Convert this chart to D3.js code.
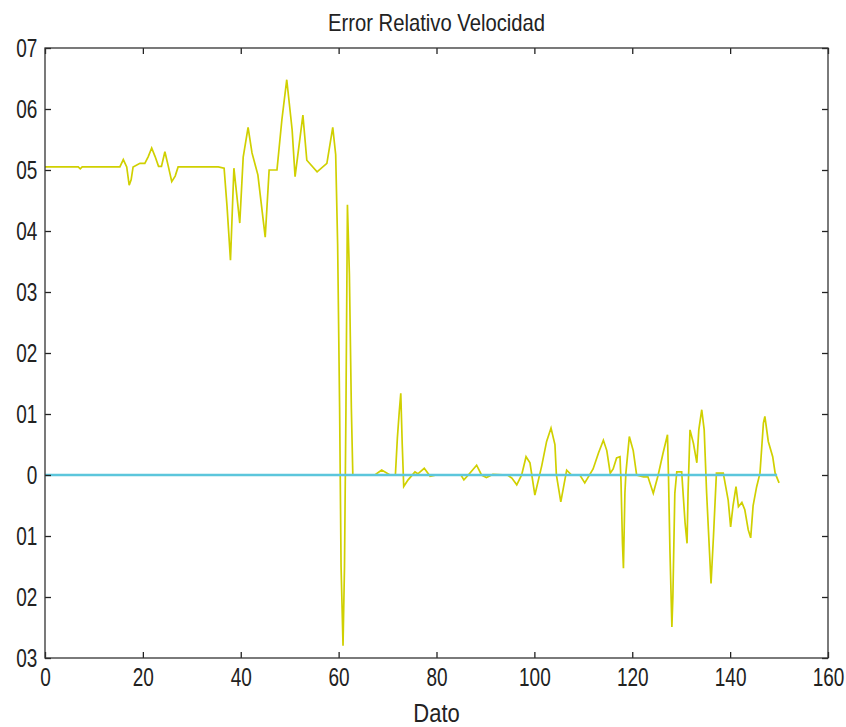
<!DOCTYPE html>
<html>
<head>
<meta charset="utf-8">
<script src="https://cdn.jsdelivr.net/npm/d3@7"></script>
<style>
  body { margin: 0; background: #fff; }
  svg text { font-family: "Liberation Sans", Arial, sans-serif; fill: #222; }
</style>
</head>
<body>
<div id="chart"></div>
<script>
// valores: [dato, error]
var errorVel = [
  [0, 0.505], [6.8, 0.505], [7.2, 0.502], [7.6, 0.505], [15.3, 0.505], [16, 0.517], [16.7, 0.505],
  [17.2, 0.475], [17.6, 0.484], [18, 0.505], [19.4, 0.511], [20.4, 0.511], [21.1, 0.522], [21.8, 0.536],
  [22.5, 0.522], [23.2, 0.506], [23.8, 0.506], [24.5, 0.53], [25.2, 0.506], [25.9, 0.481], [26.6, 0.49],
  [27.2, 0.505], [35.4, 0.505], [36.6, 0.503], [37.2, 0.44], [37.9, 0.352], [38.6, 0.503], [39.8, 0.413],
  [40.5, 0.521], [41.5, 0.57], [42.3, 0.528], [43.5, 0.492], [45, 0.39], [45.8, 0.5], [47.4, 0.5],
  [48.4, 0.582], [49.4, 0.648], [50.5, 0.566], [51.1, 0.489], [52.7, 0.59], [53.5, 0.516], [55.6, 0.497],
  [57.6, 0.511], [58.8, 0.57], [59.4, 0.525], [59.8, 0.377], [60.2, 0.111], [60.5, -0.15], [60.9, -0.28],
  [61.2, -0.15], [61.5, 0.11], [61.8, 0.443], [62.2, 0.33], [62.6, 0.11], [62.9, 0],
  [67.4, 0], [68.8, 0.008], [70.5, 0], [71.6, 0], [72, 0.06], [72.4, 0.105], [72.7, 0.134], [73, 0.05],
  [73.3, -0.019], [74.2, -0.008], [75.6, 0.005], [76.2, 0.002], [77.5, 0.011], [78.7, -0.002], [80, 0],
  [85, 0], [85.6, -0.008], [86.5, 0], [88.2, 0.016], [89.2, 0], [90.2, -0.004], [91.5, 0.001], [94.5, 0],
  [95.4, -0.005], [96.4, -0.016], [97.4, 0], [98.3, 0.03], [99.1, 0.02], [100.1, -0.033], [101.5, 0.015],
  [102.5, 0.055], [103.4, 0.077], [104.2, 0.05], [104.5, 0], [105.4, -0.044], [106.6, 0.008], [107.6, 0],
  [109.3, 0], [110.3, -0.013], [112, 0.01], [113.1, 0.036], [114.1, 0.057], [114.8, 0.04], [115.5, 0.003],
  [116.1, 0.01], [116.8, 0.028], [117.5, 0.03], [117.7, -0.01], [118, -0.112], [118.2, -0.153], [118.5, -0.03],
  [118.7, 0.003], [119.4, 0.063], [120.2, 0.04], [120.9, 0], [122.3, -0.003], [123.2, -0.003], [124.3, -0.03],
  [125.3, 0], [126.3, 0.036], [127.2, 0.066], [127.4, 0], [127.7, -0.123], [128.1, -0.249], [128.3, -0.2],
  [128.7, -0.03], [129.1, 0.005], [130.1, 0.005], [130.8, -0.079], [131.2, -0.112], [131.4, -0.03],
  [131.8, 0.074], [132.5, 0.052], [133.2, 0.02], [133.6, 0.074], [134.2, 0.107], [134.7, 0.074],
  [135.2, -0.03], [135.9, -0.145], [136.1, -0.178], [136.6, -0.1], [137.2, 0.003], [138.6, 0.003],
  [139.6, -0.041], [140.1, -0.085], [140.6, -0.05], [141.2, -0.019], [141.7, -0.052], [142.4, -0.045],
  [143, -0.057], [143.7, -0.09], [144.2, -0.103], [144.7, -0.05], [145.4, -0.02], [146.1, 0.003],
  [146.8, 0.085], [147.1, 0.096], [147.8, 0.055], [148.7, 0.03], [149.2, 0.003], [150, -0.013]
];
var referencia = [[0, 0], [149.6, 0]];

var xTicks = [0, 20, 40, 60, 80, 100, 120, 140, 160];
var yTicks = [0.7, 0.6, 0.5, 0.4, 0.3, 0.2, 0.1, 0, -0.1, -0.2, -0.3];
var yTickLabels = ["07", "06", "05", "04", "03", "02", "01", "0", "01", "02", "03"];

var width = 846, height = 727;
var margin = {top: 48, right: 18, bottom: 69, left: 45};

var svg = d3.select("#chart").append("svg")
    .attr("width", width)
    .attr("height", height);

var x = d3.scaleLinear().domain([0, 160]).range([margin.left, width - margin.right]);
var y = d3.scaleLinear().domain([-0.3, 0.7]).range([height - margin.bottom, margin.top]);

var line = d3.line()
    .x(d => x(d[0]))
    .y(d => y(d[1]));

svg.append("path")
    .datum(errorVel)
    .attr("fill", "none")
    .attr("stroke", "#d0d000")
    .attr("stroke-width", 1.7)
    .attr("d", line);

svg.append("path")
    .datum(referencia)
    .attr("fill", "none")
    .attr("stroke", "#5cc6dc")
    .attr("stroke-width", 2.4)
    .attr("d", line);

// ejes con ticks hacia dentro
var tk = 6;
svg.append("g")
    .attr("transform", "translate(0," + (height - margin.bottom) + ")")
    .call(d3.axisBottom(x).tickValues(xTicks).tickSize(-tk).tickPadding(10).tickFormat(d3.format("d")))
    .call(g => g.select(".domain").remove());

svg.append("g")
    .attr("transform", "translate(0," + margin.top + ")")
    .call(d3.axisTop(x).tickValues(xTicks).tickSize(-tk).tickFormat(""))
    .call(g => g.select(".domain").remove());

svg.append("g")
    .attr("class", "ejeY")
    .attr("transform", "translate(" + margin.left + ",0)")
    .call(d3.axisLeft(y).tickValues(yTicks).tickSize(-tk).tickPadding(10)
        .tickFormat((d, i) => yTickLabels[i]))
    .call(g => g.select(".domain").remove());

svg.append("g")
    .attr("transform", "translate(" + (width - margin.right) + ",0)")
    .call(d3.axisRight(y).tickValues(yTicks).tickSize(-tk).tickFormat(""))
    .call(g => g.select(".domain").remove());

svg.selectAll(".tick line").attr("stroke", "#222").attr("stroke-width", 1.3);
svg.selectAll(".tick text")
    .style("font-size", "25px")
    .attr("fill", "#222")
    .attr("transform", "scale(0.76,1)");

svg.append("rect")
    .attr("x", margin.left)
    .attr("y", margin.top)
    .attr("width", width - margin.left - margin.right)
    .attr("height", height - margin.top - margin.bottom)
    .attr("fill", "none")
    .attr("stroke", "#333")
    .attr("stroke-width", 1.3);

var cx = (margin.left + width - margin.right) / 2;

svg.append("text")
    .attr("transform", "translate(" + cx + ",31) scale(0.88,1)")
    .attr("text-anchor", "middle")
    .style("font-size", "23px")
    .text("Error Relativo Velocidad");

svg.append("text")
    .attr("transform", "translate(" + cx + ",722) scale(0.88,1)")
    .attr("text-anchor", "middle")
    .style("font-size", "25px")
    .text("Dato");
</script>
</body>
</html>
